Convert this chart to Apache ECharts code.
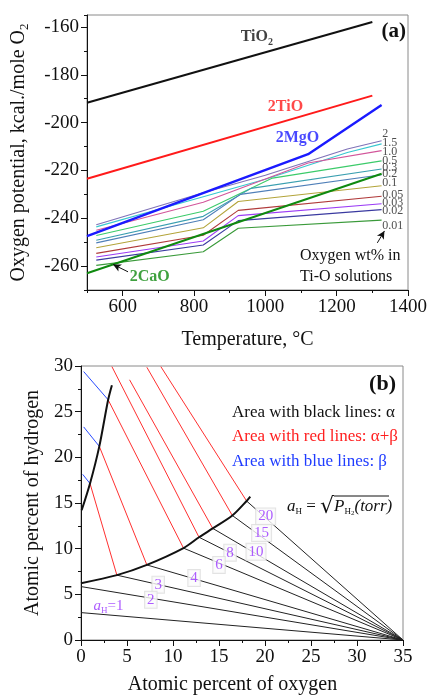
<!DOCTYPE html>
<html><head><meta charset="utf-8">
<script src="https://cdn.jsdelivr.net/npm/echarts@6/dist/echarts.min.js"></script>
<style>html,body{margin:0;padding:0;background:#fff}#c{width:430px;height:696px}</style>
</head><body><div id="c"></div>
<script>
// ================= DATA : panel (a) =================
const tempLabelTicks = [600, 800, 1000, 1200, 1400];
const potentialLabelTicks = [-260, -240, -220, -200, -180, -160];
const tiO2Line = [[500, -191.7], [1300, -157.9]];
const tiOLine  = [[500, -223.5], [1300, -188.7]];
const mgOLine  = [[500, -247.5], [1120, -213.2], [1326, -192.6]];
const caOLine  = [[500, -263.0], [1326, -221.4]];
// oxygen wt% in Ti-O solutions
const wtLabels = ['2', '1.5', '1.0', '0.5', '0.3', '0.2', '0.1', '0.05', '0.03', '0.02', '0.01'];
const wt2_0   = [[526, -242.7], [826, -229.3], [1000, -222.0], [1230, -211.0], [1326, -207.6]];
const wt1_5   = [[526, -243.6], [826, -231.0], [1000, -223.7], [1230, -212.5], [1326, -208.9]];
const wt1_0   = [[526, -245.0], [826, -233.3], [1120, -216.9], [1326, -211.7]];
const wt0_5   = [[526, -247.2], [826, -237.1], [1020, -223.2], [1326, -216.0]];
const wt0_3   = [[526, -249.2], [826, -239.2], [960, -227.5], [1326, -219.4]];
const wt0_2   = [[526, -250.3], [826, -240.6], [930, -230.0], [1326, -221.8]];
const wt0_1   = [[526, -252.3], [826, -244.0], [924, -233.0], [1326, -226.4]];
const wt0_05  = [[526, -254.7], [826, -247.1], [924, -236.7], [1326, -230.8]];
const wt0_03  = [[526, -256.2], [826, -249.5], [924, -238.9], [1326, -233.9]];
const wt0_02  = [[526, -257.5], [826, -251.2], [924, -241.0], [1326, -236.4]];
const wt0_01  = [[526, -259.7], [826, -254.0], [924, -244.2], [1326, -240.8]];
const wtLines = [wt2_0, wt1_5, wt1_0, wt0_5, wt0_3, wt0_2, wt0_1, wt0_05, wt0_03, wt0_02, wt0_01];
// label anchor positions (data coords) for the stacked wt% labels
const wtLabelPos = [[1328, -204.8], [1328, -208.6], [1328, -212.1], [1328, -215.8], [1328, -219.0], [1328, -221.4],
                    [1328, -225.0], [1328, -230.1], [1328, -233.6], [1328, -237.1], [1328, -243.0]];
const compoundLabels = ['TiO2', '2TiO', '2MgO', '2CaO'];
const compoundLabelPos = [[931, -164.3], [1007, -193.5], [1029, -206.4], [620, -264.3]];
const caoArrow = [[615, -262.4], [573, -259.3]];
const wtArrow = [[1314, -250.3], [1334, -245.3]];

// ================= DATA : panel (b) =================
const lowerBoundary = [[0, 6.22], [3.9, 7.1], [7.16, 8.22], [11.14, 10.06], [12.83, 11.25], [14.32, 12.22], [16.45, 13.63], [18.0, 15.22], [18.4, 15.7]];
const leftBoundary  = [[0.07, 14.2], [0.98, 17.13], [1.99, 21.2], [2.95, 26.3], [3.36, 27.9]];
const blackTieStarts = [[0, 3.0], [0, 5.85], [3.9, 7.1], [7.16, 8.22], [11.14, 10.06], [12.83, 11.25], [14.32, 12.22], [16.45, 13.63], [18.0, 15.22]];
const blackTieEnd = [35, 0];
const redTieLines = [
  [[0.98, 17.13], [3.9, 7.1]],
  [[1.99, 21.2], [7.16, 8.22]],
  [[2.95, 26.3], [11.14, 10.06]],
  [[3.36, 29.93], [12.83, 11.25]],
  [[5.28, 28.49], [14.32, 12.22]],
  [[7.16, 29.86], [16.45, 13.63]],
  [[8.68, 29.93], [18.0, 15.22]]
];
const blueTieLines = [
  [[0.18, 18.14], [0.98, 17.13]],
  [[0.29, 23.33], [1.99, 21.2]],
  [[0.29, 29.39], [2.95, 26.3]]
];
const aHLabels = ['20', '15', '10', '8', '6', '4', '3', '2'];
const aHLabelPos = [[20.07, 13.52], [19.63, 11.72], [19.02, 9.66], [16.2, 9.56], [15.0, 8.22], [12.29, 6.78], [8.39, 6.06], [7.59, 4.40]];
const aH1LabelPos = [3.0, 3.68];

// ================= STYLE / BUILD =================
const SERIF = '"Liberation Serif", "Times New Roman", serif';
const wtColors = ['#7f72b8', '#38c8d0', '#d2559a', '#3ccb6a', '#3a9fb0', '#4f7fb8', '#b3a43a', '#b03a3a', '#9b3cf5', '#3a3aa0', '#3a9a3a'];
const PURPLE = '#9933ff';
const plain = v => String(v);

const tickLabel = {color: '#111', fontFamily: SERIF, fontSize: 19, formatter: plain};
function mainAxis(extra) {
  return Object.assign({
    type: 'value',
    axisLine: {show: true, onZero: false, lineStyle: {color: '#111', width: 1}},
    axisTick: {show: true, inside: false, length: 6, lineStyle: {color: '#111'}},
    splitLine: {show: false},
    axisLabel: Object.assign({margin: 8}, tickLabel),
    nameTextStyle: {color: '#111', fontFamily: SERIF, fontSize: 20}
  }, extra);
}
function minorAxis(extra) {
  return Object.assign({
    type: 'value',
    axisLine: {show: false},
    axisTick: {show: true, inside: false, length: 3, lineStyle: {color: '#111'}},
    axisLabel: {show: false},
    splitLine: {show: false}
  }, extra);
}

const series = [];
// panel (a) wt% lines
wtLines.forEach((d, i) => {
  series.push({type: 'line', xAxisIndex: 0, yAxisIndex: 0, data: d, showSymbol: false, symbol: 'none',
    lineStyle: {color: wtColors[i], width: 1.1}, z: 2, animation: false});
});
series.push({type: 'line', xAxisIndex: 0, yAxisIndex: 0, data: tiO2Line, symbol: 'none', lineStyle: {color: '#111', width: 2}, z: 3});
series.push({type: 'line', xAxisIndex: 0, yAxisIndex: 0, data: tiOLine, symbol: 'none', lineStyle: {color: '#ff1a1a', width: 2}, z: 3});
series.push({type: 'line', xAxisIndex: 0, yAxisIndex: 0, data: mgOLine, symbol: 'none', lineStyle: {color: '#1a1aff', width: 2.4}, z: 3});
series.push({type: 'line', xAxisIndex: 0, yAxisIndex: 0, data: caOLine, symbol: 'none', lineStyle: {color: '#0f8a0f', width: 2}, z: 3,
  markLine: {silent: true, symbol: ['none', 'arrow'], symbolSize: [6, 8], animation: false,
    lineStyle: {color: '#111', width: 1, type: 'solid'}, label: {show: false},
    data: [[{coord: caoArrow[0]}, {coord: caoArrow[1]}], [{coord: wtArrow[0]}, {coord: wtArrow[1]}]]}});
// compound labels
const compoundColors = ['#111', '#ff1a1a', '#1a1aff', '#0f8a0f'];
series.push({type: 'scatter', xAxisIndex: 0, yAxisIndex: 0, symbolSize: 0, z: 5,
  data: compoundLabels.map((t, i) => ({value: compoundLabelPos[i], name: t,
    label: {color: compoundColors[i]}})),
  label: {show: true, position: 'right', distance: 0, fontFamily: SERIF, fontWeight: 'bold', fontSize: 16,
    formatter: p => p.name === 'TiO2' ? '{b|TiO}{s|2}' : '{b|' + p.name + '}',
    rich: {b: {fontFamily: SERIF, fontWeight: 'bold', fontSize: 16},
           s: {fontFamily: SERIF, fontWeight: 'bold', fontSize: 10, padding: [10, 0, 0, 0]}}}});
// wt% labels
series.push({type: 'scatter', xAxisIndex: 0, yAxisIndex: 0, symbolSize: 0, z: 5,
  data: wtLabels.map((t, i) => ({value: wtLabelPos[i], name: t})),
  label: {show: true, position: 'right', distance: 0, formatter: p => p.name,
    fontFamily: SERIF, fontSize: 12, color: '#222'}});

// panel (b)
series.push({type: 'line', xAxisIndex: 2, yAxisIndex: 2, data: lowerBoundary, symbol: 'none', smooth: 0.3,
  lineStyle: {color: '#111', width: 2}, z: 4});
series.push({type: 'line', xAxisIndex: 2, yAxisIndex: 2, data: leftBoundary, symbol: 'none', smooth: 0.3,
  lineStyle: {color: '#111', width: 2}, z: 4});
blackTieStarts.forEach(p => series.push({type: 'line', xAxisIndex: 2, yAxisIndex: 2, data: [p, blackTieEnd], symbol: 'none',
  lineStyle: {color: '#222', width: 1}, z: 2}));
redTieLines.forEach(d => series.push({type: 'line', xAxisIndex: 2, yAxisIndex: 2, data: d, symbol: 'none',
  lineStyle: {color: '#ff3030', width: 1}, z: 2}));
blueTieLines.forEach(d => series.push({type: 'line', xAxisIndex: 2, yAxisIndex: 2, data: d, symbol: 'none',
  lineStyle: {color: '#2a4cff', width: 1}, z: 2}));
series.push({type: 'scatter', xAxisIndex: 2, yAxisIndex: 2, symbolSize: 0, z: 6,
  data: aHLabels.map((t, i) => ({value: aHLabelPos[i], name: t})),
  label: {show: true, position: 'inside', formatter: p => p.name, fontFamily: SERIF, fontSize: 15, color: PURPLE,
    backgroundColor: '#fbfbfb', borderColor: '#dcdcdc', borderWidth: 1, padding: [1, 2, 0, 2]}});
series.push({type: 'scatter', xAxisIndex: 2, yAxisIndex: 2, symbolSize: 0, z: 6,
  data: [{value: aH1LabelPos, name: 'aH=1'}],
  label: {show: true, position: 'inside', formatter: '{i|a}{s|H}{n|=1}', color: PURPLE,
    rich: {i: {fontFamily: SERIF, fontStyle: 'italic', fontSize: 15, color: PURPLE},
           s: {fontFamily: SERIF, fontSize: 9, color: PURPLE, padding: [8, 0, 0, 0]},
           n: {fontFamily: SERIF, fontSize: 15, color: PURPLE}}}});

const option = {
  animation: false,
  backgroundColor: '#fff',
  grid: [
    {left: 87, top: 15, right: 20, bottom: 406, show: true, borderColor: '#8a8a8a', borderWidth: 1, backgroundColor: 'transparent'},
    {left: 81, top: 366, right: 27, bottom: 53, show: true, borderColor: '#8a8a8a', borderWidth: 1, backgroundColor: 'transparent'}
  ],
  xAxis: [
    mainAxis({gridIndex: 0, min: 500, max: 1400, interval: 100, position: 'bottom',
      axisLabel: Object.assign({margin: 8, customValues: tempLabelTicks}, tickLabel),
      axisTick: {show: true, length: 6, customValues: tempLabelTicks, lineStyle: {color: '#111'}},
      name: 'Temperature, °C', nameLocation: 'middle', nameGap: 40}),
    minorAxis({gridIndex: 0, min: 500, max: 1400, interval: 100, position: 'bottom'}),
    mainAxis({gridIndex: 1, min: 0, max: 35, interval: 5, position: 'bottom',
      minorTick: {show: true, splitNumber: 2, length: 3, lineStyle: {color: '#111'}},
      name: 'Atomic percent of oxygen', nameLocation: 'middle', nameGap: 35,
      nameTextStyle: {color: '#111', fontFamily: SERIF, fontSize: 20, padding: [0, 19, 0, 0]}})
  ],
  yAxis: [
    mainAxis({gridIndex: 0, min: -270, max: -155, interval: 10, position: 'left',
      axisLabel: Object.assign({margin: 8, customValues: potentialLabelTicks}, tickLabel),
      axisTick: {show: true, length: 6, customValues: potentialLabelTicks, lineStyle: {color: '#111'}},
      name: '{t|Oxygen potential, kcal./mole O}{s|2}', nameLocation: 'middle', nameGap: 56, nameRotate: 90,
      nameTextStyle: {rich: {t: {fontFamily: SERIF, fontSize: 20, color: '#111'},
                             s: {fontFamily: SERIF, fontSize: 13, color: '#111', padding: [12, 0, 0, 0]}}}}),
    minorAxis({gridIndex: 0, min: -270, max: -155, interval: 10, position: 'left'}),
    mainAxis({gridIndex: 1, min: 0, max: 30, interval: 5, position: 'left',
      minorTick: {show: true, splitNumber: 2, length: 3, lineStyle: {color: '#111'}},
      name: 'Atomic percent of hydrogen', nameLocation: 'middle', nameGap: 37, nameRotate: 90})
  ],
  graphic: [
    {type: 'text', right: 24, top: 21, style: {text: '(a)', font: 'bold 21px ' + SERIF, fill: '#111'}},
    {type: 'text', right: 34, top: 373, style: {text: '(b)', font: 'bold 22px ' + SERIF, fill: '#111'}},
    {type: 'text', left: 300, top: 245, style: {text: 'Oxygen wt% in\nTi-O solutions', font: '16px ' + SERIF, fill: '#111', lineHeight: 21}},
    {type: 'text', left: 232, top: 404, style: {text: 'Area with black lines: α', font: '17px ' + SERIF, fill: '#111'}},
    {type: 'text', left: 232, top: 428, style: {text: 'Area with red lines: α+β', font: '17px ' + SERIF, fill: '#ff2020'}},
    {type: 'text', left: 232, top: 453, style: {text: 'Area with blue lines: β', font: '17px ' + SERIF, fill: '#1f3cff'}},
    {type: 'text', left: 287, top: 496, style: {
      text: '{i|a}{s|H}{n| = }{r|√}{i|P}{s|H}{ss|2}{i|(torr)}',
      rich: {i: {font: 'italic 17px ' + SERIF, fill: '#111'},
             s: {font: '9px ' + SERIF, fill: '#111', padding: [9, 0, 0, 0]},
             ss: {font: '7px ' + SERIF, fill: '#111', padding: [12, 0, 0, 0]},
             n: {font: '17px ' + SERIF, fill: '#111'},
             r: {font: '22px "DejaVu Sans", sans-serif', fill: '#111'}}}},
    {type: 'line', shape: {x1: 334, y1: 496, x2: 389, y2: 496}, style: {stroke: '#111', lineWidth: 1}}
  ],
  series: series
};
const chart = echarts.init(document.getElementById('c'));
chart.setOption(option);
</script></body></html>
